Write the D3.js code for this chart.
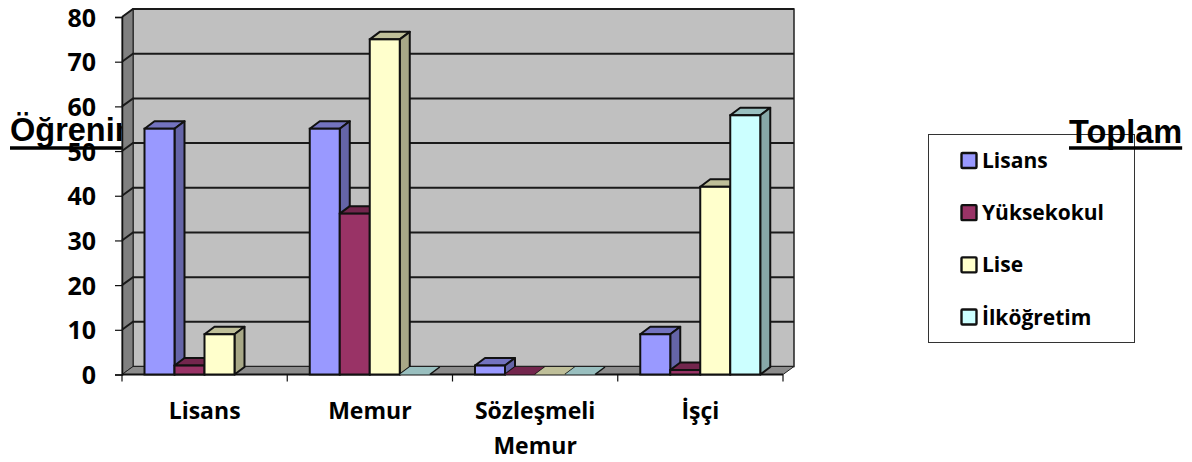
<!DOCTYPE html>
<html lang="tr">
<head>
<meta charset="UTF-8">
<title>Öğrenim Toplam</title>
<script src="https://d3js.org/d3.v7.min.js"></script>
<style>
    html, body { margin: 0; padding: 0; background: #fff; }
    svg { display: block; }
    .lbl { font-family: "Open Sans", sans-serif; font-weight: 700; fill: #000; }
    .title { font-family: "Liberation Sans", Arial, sans-serif; font-weight: 700; font-size: 32.5px; fill: #000; }
</style>
</head>
<body>
<svg width="1192" height="462"></svg>
<script>
var categories = ["Lisans", "Memur", "Sözleşmeli Memur", "İşçi"];
var seriesNames = ["Lisans", "Yüksekokul", "Lise", "İlköğretim"];
var seriesColors = ["#9999ff", "#993366", "#ffffcc", "#ccffff"];
var lisansValues = [55, 55, 2, 9];
var yuksekokulValues = [2, 36, 0, 1];
var liseValues = [9, 75, 0, 42];
var ilkogretimValues = [null, 0, 0, 58];
var allValues = [lisansValues, yuksekokulValues, liseValues, ilkogretimValues];
var yTicks = [0, 10, 20, 30, 40, 50, 60, 70, 80];

var svg = d3.select("svg");
var plotLeft = 122, plotRight = 783, plotTop = 17, base = 374.5;
var dx = 11, dy = -8;   // wall depth
var bx = 10, by = -7.5; // bar depth

var x = d3.scaleBand().domain(categories).range([plotLeft, plotRight]);
var inner = d3.scaleBand().domain(seriesNames).range([22.5, 142.5]);
var y = d3.scaleLinear().domain([0, 80]).range([base, plotTop]);

function shade(c, k) {
    var r = d3.rgb(c);
    return d3.rgb(r.r * k, r.g * k, r.b * k).formatHex();
}
function poly(pts) { return "M" + pts.map(function(p) { return p.join(","); }).join("L") + "Z"; }

// underline drawn by hand, the css one comes out too thin
function title(txt, tx, ty, uy) {
    var t = svg.append("text").attr("class", "title").attr("x", tx).attr("y", ty).text(txt);
    var len = t.node().getComputedTextLength();
    svg.append("line").attr("x1", tx).attr("x2", tx + len).attr("y1", uy).attr("y2", uy)
        .attr("stroke", "#000").attr("stroke-width", 3.5);
}

// titles go first, the plot covers them
title("Öğrenim", 10, 141, 148);

// walls
svg.append("path").attr("fill", "#c0c0c0").attr("stroke", "#222").attr("stroke-width", 1.5)
    .attr("d", poly([[plotLeft + dx, plotTop + dy], [plotRight + dx, plotTop + dy], [plotRight + dx, base + dy], [plotLeft + dx, base + dy]]));
svg.append("path").attr("fill", "#808080").attr("stroke", "#222").attr("stroke-width", 1)
    .attr("d", poly([[plotLeft, plotTop], [plotLeft + dx, plotTop + dy], [plotLeft + dx, base + dy], [plotLeft, base]]));
svg.append("path").attr("fill", "#8c8c8c").attr("stroke", "#222").attr("stroke-width", 1)
    .attr("d", poly([[plotLeft, base], [plotLeft + dx, base + dy], [plotRight + dx, base + dy], [plotRight, base]]));

// gridlines
yTicks.forEach(function(t) {
    if (t === 0) return;
    svg.append("path").attr("fill", "none").attr("stroke", "#1a1a1a").attr("stroke-width", 2)
        .attr("d", "M" + plotLeft + "," + y(t) + "L" + (plotLeft + dx) + "," + (y(t) + dy) + "L" + (plotRight + dx) + "," + (y(t) + dy));
});

// axes
var yAxis = d3.axisLeft(y).tickValues(yTicks).tickSize(7).tickPadding(19);
var gy = svg.append("g").attr("transform", "translate(" + plotLeft + ",0)").call(yAxis);
gy.select(".domain").attr("stroke", "#111").attr("stroke-width", 1.5);
gy.selectAll(".tick line").attr("stroke", "#111").attr("stroke-width", 1.2);
gy.selectAll("text").attr("class", "lbl").style("font-size", "25px").attr("fill", "#000")
    .attr("dy", "0.36em");

var xAxis = d3.axisBottom(x).tickSize(0).tickPadding(0);
var gx = svg.append("g").attr("transform", "translate(0," + base + ")").call(xAxis);
gx.select(".domain").attr("d", "M" + plotLeft + ",0H" + plotRight).attr("stroke", "#111").attr("stroke-width", 2);
gx.selectAll("text").remove();

d3.range(categories.length + 1).forEach(function(i) {
    var px = plotLeft + i * x.step();
    svg.append("line").attr("x1", px).attr("x2", px).attr("y1", base).attr("y2", base + 7)
        .attr("stroke", "#111").attr("stroke-width", 1.2);
});

categories.forEach(function(c) {
    var words = c === "Sözleşmeli Memur" ? ["Sözleşmeli", "Memur"] : [c];
    words.forEach(function(w, i) {
        svg.append("text").attr("class", "lbl").attr("text-anchor", "middle")
            .style("font-size", "23px")
            .attr("x", x(c) + x.bandwidth() / 2)
            .attr("y", 419 + i * 35)
            .text(w);
    });
});

// bars, drawn back to front by series
seriesNames.forEach(function(name, s) {
    var color = seriesColors[s];
    var g = svg.append("g");
    categories.forEach(function(c, i) {
        var v = allValues[s][i];
        if (v === null) return;
        var x0 = x(c) + inner(name), x1 = x0 + inner.bandwidth();
        var y0 = y(v), y1 = y(0);
        var sw = v > 0 ? 2 : 0;
        g.append("path").attr("fill", shade(color, 0.75))
            .attr("stroke", "#111").attr("stroke-width", sw).attr("stroke-linejoin", "round")
            .attr("d", poly([[x0, y0], [x0 + bx, y0 + by], [x1 + bx, y0 + by], [x1, y0]]));
        if (v > 0) {
            g.append("path").attr("fill", shade(color, 0.66))
                .attr("stroke", "#111").attr("stroke-width", sw).attr("stroke-linejoin", "round")
                .attr("d", poly([[x1, y0], [x1 + bx, y0 + by], [x1 + bx, y1 + by], [x1, y1]]));
            g.append("rect").attr("x", x0).attr("y", y0).attr("width", x1 - x0).attr("height", y1 - y0)
                .attr("fill", color).attr("stroke", "#111").attr("stroke-width", sw);
        } else {
            // flat bar, only its right edge shows dark
            g.append("line").attr("x1", x1).attr("y1", y0).attr("x2", x1 + bx).attr("y2", y0 + by)
                .attr("stroke", "#111").attr("stroke-width", 1.5);
        }
    });
});

// legend
svg.append("rect").attr("x", 928.5).attr("y", 134.5).attr("width", 206).attr("height", 208)
    .attr("fill", "none").attr("stroke", "#333").attr("stroke-width", 1);
title("Toplam", 1069, 143, 148);

var legendY = d3.scalePoint().domain(seriesNames).range([160.5, 317]);
seriesNames.forEach(function(name, s) {
    svg.append("rect").attr("x", 961.5).attr("y", legendY(name) - 7.5).attr("width", 15).attr("height", 15)
        .attr("rx", 1).attr("fill", seriesColors[s]).attr("stroke", "#111").attr("stroke-width", 2.4);
    svg.append("text").attr("class", "lbl").style("font-size", "21px")
        .attr("x", 982).attr("y", legendY(name) + 7.5).text(name);
});
</script>
</body>
</html>
